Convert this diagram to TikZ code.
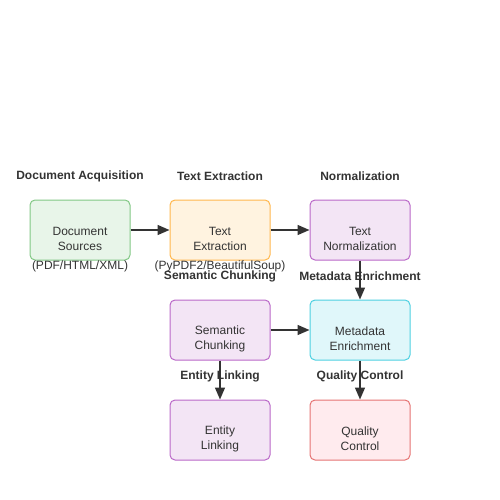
\documentclass[tikz,border=0pt]{standalone}
\usepackage{fontspec}
\setmainfont{Liberation Sans}
\usetikzlibrary{arrows.meta}
\definecolor{txt}{HTML}{333333}
\definecolor{gfill}{HTML}{E8F5E9}\definecolor{gline}{HTML}{81C784}
\definecolor{ofill}{HTML}{FFF3E0}\definecolor{oline}{HTML}{FFB74D}
\definecolor{pfill}{HTML}{F3E5F5}\definecolor{pline}{HTML}{BA68C8}
\definecolor{cfill}{HTML}{E0F7FA}\definecolor{cline}{HTML}{4DD0E1}
\definecolor{rfill}{HTML}{FFEBEE}\definecolor{rline}{HTML}{E57373}
\begin{document}
\begin{tikzpicture}[x=1pt,y=-1pt,
  box/.style={draw, rounded corners=5pt, line width=1pt, minimum width=100pt, minimum height=60pt, inner sep=0pt},
  boxtext/.style={text=txt, align=center, font=\fontsize{12}{15}\selectfont, inner sep=0pt},
  ttl/.style={text=txt, font=\fontsize{12}{14}\selectfont\bfseries, inner sep=0pt},
  sub/.style={text=txt, font=\fontsize{12}{14}\selectfont, inner sep=0pt},
  arr/.style={draw=txt, line width=1.5pt, -{Triangle[length=12pt,width=10pt]}}]
\useasboundingbox (0,0) rectangle (500,500);
% boxes
\node[box, fill=gfill, draw=gline] (ds) at (80,230) {};
\node[box, fill=ofill, draw=oline] (te) at (220,230) {};
\node[box, fill=pfill, draw=pline] (tn) at (360,230) {};
\node[box, fill=pfill, draw=pline] (sc) at (220,330) {};
\node[box, fill=cfill, draw=cline] (me) at (360,330) {};
\node[box, fill=pfill, draw=pline] (el) at (220,430) {};
\node[box, fill=rfill, draw=rline] (qc) at (360,430) {};
% box texts
\node[boxtext] (dst) at (80,238.5) {Document\\Sources};
\node[boxtext] (tet) at (220,238.5) {Text\\Extraction};
\node[boxtext] (tnt) at (360,238.5) {Text\\Normalization};
\node[boxtext] (sct) at (220,338.5) {Semantic\\Chunking};
\node[boxtext] (met) at (360,338.5) {Metadata\\Enrichment};
\node[boxtext] (elt) at (220,438.5) {Entity\\Linking};
\node[boxtext] (qct) at (360,438.5) {Quality\\Control};
% arrows
\draw[arr] (ds.east) -- (te.west);
\draw[arr] (te.east) -- (tn.west);
\draw[arr] (tn.south) -- (me.north);
\draw[arr] (sc.east) -- (me.west);
\draw[arr] (sc.south) -- (el.north);
\draw[arr] (me.south) -- (qc.north);
% titles
\node[ttl] (t1) at (80,176) {Document Acquisition};
\node[ttl] (t2) at (220,176) {Text Extraction};
\node[ttl] (t3) at (360,176) {Normalization};
\node[ttl] (t4) at (220,276) {Semantic Chunking};
\node[ttl] (t5) at (360,276) {Metadata Enrichment};
\node[ttl] (t6) at (220,376) {Entity Linking};
\node[ttl] (t7) at (360,376) {Quality Control};
% sublabels
\node[sub] (s1) at (80,266) {(PDF/HTML/XML)};
\node[sub] (s2) at (220,266) {(PyPDF2/BeautifulSoup)};
\end{tikzpicture}
\end{document}
